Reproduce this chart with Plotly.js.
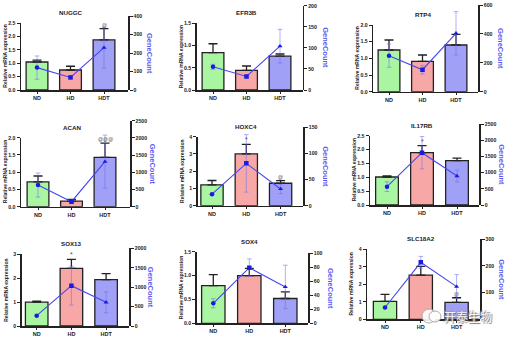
<!DOCTYPE html>
<html><head><meta charset="utf-8">
<script src="https://cdn.plot.ly/plotly-3.0.1.min.js"></script>
<style>html,body{margin:0;padding:0;background:#fff;}#chart{width:509px;height:337px;}</style>
</head><body><div id="chart"></div>
<script>
const groups = ['ND','HD','HDT'];
const genes = ['NUGGC','EFR3B','RTP4','ACAN','HOXC4','IL17RB','SOX13','SOX4','SLC18A2'];
const exprMean = [
  [1.05,0.75,1.88],
  [0.84,0.44,0.76],
  [1.25,0.91,1.40],
  [0.72,0.16,1.43],
  [1.21,3.00,1.30],
  [1.01,1.89,1.60],
  [1.00,2.41,1.94],
  [0.79,1.00,0.52],
  [1.02,2.52,0.97]
];
const exprErr = [
  [0.07,0.14,0.42],
  [0.20,0.10,0.05],
  [0.30,0.19,0.32],
  [0.17,0.05,0.41],
  [0.25,0.55,0.15],
  [0.04,0.25,0.09],
  [0.04,0.38,0.25],
  [0.23,0.15,0.14],
  [0.40,0.50,0.26]
];
const geneCount = [
  [121,68,229],
  [55,32,104],
  [249,152,404],
  [630,145,1310],
  [22,81,32],
  [565,1615,895],
  [266,1039,610],
  [28.6,79.5,52],
  [44,213,122]
];
const geneCountErr = [
  [63,8,110],
  [6,3,40],
  [80,30,150],
  [350,40,770],
  [1,55,9],
  [150,500,180],
  [10,500,270],
  [6.5,12.5,31],
  [3,22,45]
];
const exprMax = [2.5,1.5,2,2,4,2.5,3,1.5,4];
const exprStep = [0.5,0.5,0.5,0.5,1,0.5,1,0.5,1];
const countMax = [400,200,600,2500,150,2500,2000,100,300];
const countStep = [100,50,200,500,50,500,500,20,100];
const countFirstLabel = [0,0,0,0,0,0,0,0,100]; // bottom "0" hidden under watermark in last panel
const sigMarks = [
  ['','','@'],['','',''],['','',''],
  ['','','@@@'],['','*','@'],['','*',''],
  ['','*',''],['','',''],['','','@']
];

// panel geometry in pixels (layout only)
const W = 509, H = 337;
const boxes = [
  {l:21,   r:128,   b:90,    tl:23.3,  tr:16,    c0:37,    sp:33.5},
  {l:196.7,r:302.7, b:90,    tl:23.3,  tr:5.7,   c0:213,   sp:33.5},
  {l:373.3,r:478.3, b:91.7,  tl:25,    tr:5,     c0:389,   sp:33.5},
  {l:21,   r:130,   b:206.7, tl:137.7, tr:120.7, c0:38,    sp:33.5},
  {l:197.7,r:303.3, b:205.7, tl:136.7, tr:127.3, c0:212,   sp:34.3},
  {l:370,  r:479.3, b:205,   tl:135.7, tr:124,   c0:387,   sp:35},
  {l:21.7, r:129.3, b:326,   tl:254.3, tr:248.3, c0:36.7,  sp:34.7},
  {l:196.7,r:308.3, b:323.3, tl:251.7, tr:253.3, c0:213.3, sp:36},
  {l:367.3,r:480,   b:319.3, tl:249.3, tr:239,   c0:385,   sp:35.8}
];
const barColors = ['#aaf5a2','#f7a8a6','#a0a0f7'];
const symbols = ['circle','square','triangle-up'];
const FONT = 'Liberation Sans, Arial, sans-serif';

const px = p => p / W;
const py = p => 1 - p / H;
const id = (pre, n) => n === 1 ? pre : pre + n;

const traces = [];
const layout = {
  width: W, height: H,
  margin: {l:0, r:0, t:0, b:0},
  paper_bgcolor: '#fff', plot_bgcolor: 'rgba(0,0,0,0)',
  showlegend: false,
  font: {family: FONT, color: '#222'},
  annotations: [], shapes: []
};

genes.forEach((g, i) => {
  const B = boxes[i];
  const xn = i + 1, yl = 2 * i + 1, yr = 2 * i + 2;
  const xid = id('x', xn), ylid = id('y', yl), yrid = id('y', yr);
  const rightTicks = [];
  for (let v = countFirstLabel[i]; v <= countMax[i] + 1e-9; v += countStep[i]) rightTicks.push(v);
  layout[id('xaxis', xn)] = {
    type: 'category',
    domain: [px(B.l), px(B.r)], anchor: ylid,
    range: [-(B.c0 - B.l) / B.sp, (B.r - B.c0) / B.sp],
    showline: true, linewidth: 1.5, linecolor: '#222',
    ticks: 'outside', ticklen: 2, tickwidth: 1, tickcolor: '#222',
    tickfont: {size: 5.5, family: FONT, weight: 'bold', color: '#222'},
    showgrid: false, zeroline: false, fixedrange: true
  };
  layout[id('yaxis', yl)] = {
    domain: [py(B.b), py(B.tl)], anchor: xid,
    range: [0, exprMax[i]], dtick: exprStep[i], tick0: 0,
    tickformat: exprStep[i] < 1 ? '.1f' : 'd',
    showline: true, linewidth: 1.5, linecolor: '#222',
    ticks: 'outside', ticklen: 3, tickwidth: 1, tickcolor: '#222',
    tickfont: {size: 5.2, family: FONT, weight: 'bold', color: '#222'},
    showgrid: false, zeroline: false, fixedrange: true
  };
  layout[id('yaxis', yr)] = {
    domain: [py(B.b), py(B.tr)], anchor: xid, side: 'right',
    range: [0, countMax[i]], tickmode: 'array', tickvals: rightTicks,
    showline: true, linewidth: 1.5, linecolor: '#222',
    ticks: 'outside', ticklen: 3, tickwidth: 1, tickcolor: '#222',
    tickfont: {size: 5.2, family: FONT, weight: 'bold', color: '#222'},
    showgrid: false, zeroline: false, fixedrange: true
  };
  traces.push({
    type: 'bar', x: groups, y: exprMean[i], xaxis: xid, yaxis: ylid,
    width: 0.65,
    marker: {color: barColors, line: {color: '#222', width: 1.3}},
    error_y: {type: 'data', symmetric: false, array: exprErr[i], arrayminus: [0,0,0],
              color: '#222', thickness: 1.3, width: 4.5},
    hoverinfo: 'skip'
  });
  traces.push({
    type: 'scatter', mode: 'lines+markers', x: groups, y: geneCount[i],
    xaxis: xid, yaxis: yrid,
    line: {color: '#4646f2', width: 1.1},
    marker: {symbol: symbols, size: 4.5, color: '#1a1ae0'},
    error_y: {type: 'data', array: geneCountErr[i], color: 'rgba(110,110,240,0.55)',
              thickness: 1, width: 2.3},
    hoverinfo: 'skip'
  });
  // gene title
  layout.annotations.push({
    xref: 'paper', yref: 'paper', x: px(B.c0 + B.sp), y: py(B.tl - 10.5),
    text: g, showarrow: false, xanchor: 'center', yanchor: 'middle',
    font: {size: 6.2, family: FONT, weight: 'bold', color: '#222'}
  });
  // left axis title
  layout.annotations.push({
    xref: 'paper', yref: 'paper', x: px(B.l - 16), y: py((B.b + B.tl) / 2),
    text: 'Relative mRNA expression', textangle: -90, showarrow: false,
    xanchor: 'center', yanchor: 'middle',
    font: {size: 5, family: FONT, weight: 'bold', color: '#222'}
  });
  // right axis title
  layout.annotations.push({
    xref: 'paper', yref: 'paper', x: px(B.r + 22), y: py((B.b + B.tr) / 2),
    text: 'GeneCount', textangle: 90, showarrow: false,
    xanchor: 'center', yanchor: 'middle',
    font: {size: 7.5, family: FONT, weight: 'bold', color: '#5a5af0'}
  });
  // significance marks
  groups.forEach((grp, k) => {
    if (!sigMarks[i][k]) return;
    layout.annotations.push({
      xref: xid, yref: ylid, x: grp, y: exprMean[i][k] + exprErr[i][k],
      text: sigMarks[i][k], showarrow: false, xanchor: 'center', yanchor: 'bottom',
      yshift: -1,
      font: {size: sigMarks[i][k] === '*' ? 7 : 5, family: FONT, color: '#555'}
    });
  });
});

// watermark
layout.shapes.push({
  type: 'circle', xref: 'paper', yref: 'paper',
  x0: px(422), x1: px(436), y0: py(323), y1: py(309),
  line: {color: '#aaa', width: 1}, fillcolor: 'rgba(255,255,255,0.9)'
});
layout.shapes.push({
  type: 'circle', xref: 'paper', yref: 'paper',
  x0: px(429), x1: px(441), y0: py(322), y1: py(311),
  line: {color: '#aaa', width: 1}, fillcolor: 'rgba(255,255,255,0.9)'
});
layout.annotations.push({
  xref: 'paper', yref: 'paper', x: px(468), y: py(316),
  text: '开泰生物', showarrow: false, xanchor: 'center', yanchor: 'middle',
  font: {size: 12, family: 'Noto Sans CJK SC', color: '#f4f4f4',
         shadow: '1px 1px 1px #777, -1px -1px 1px #999'}
});

Plotly.newPlot('chart', traces, layout, {staticPlot: true, displayModeBar: false});
</script></body></html>
